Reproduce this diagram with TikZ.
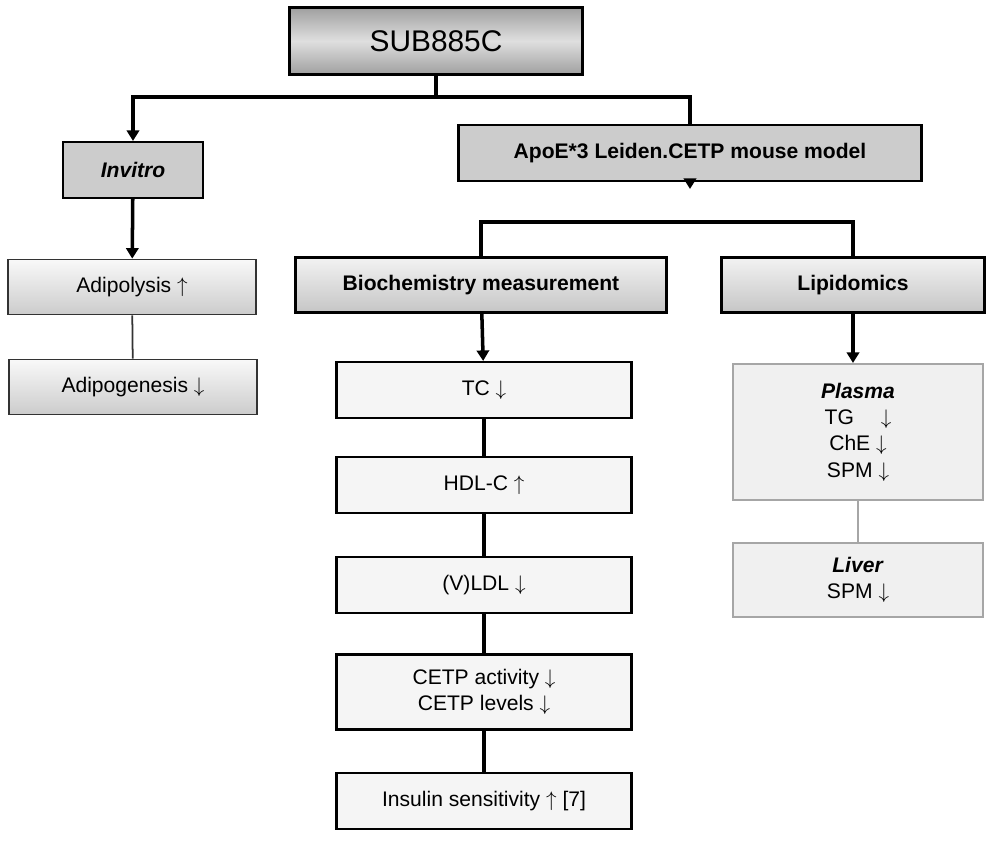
\documentclass[tikz,border=0pt]{standalone}
\usepackage{fontspec}
\setmainfont{Liberation Sans}
\usetikzlibrary{arrows.meta}
\tikzstyle{topbox} = [rectangle, minimum width=5.86cm, minimum height=1.34cm, text centered, draw=black, line width=1.2pt, top color=gray!75, bottom color=gray!75, middle color=gray!25, font=\fontsize{17}{19}\selectfont]
\tikzstyle{branch} = [rectangle, minimum height=1.12cm, text centered, draw=black, line width=1.2pt, fill=gray!40, font=\fontsize{12}{14}\selectfont\bfseries]
\tikzstyle{headbox} = [rectangle, minimum height=1.1cm, text centered, draw=black, line width=1.2pt, top color=gray!10, bottom color=gray!45, font=\fontsize{12}{14}\selectfont\bfseries]
\tikzstyle{vitro} = [rectangle, minimum width=4.96cm, minimum height=1.1cm, text centered, draw=black!80, line width=1pt, top color=gray!5, bottom color=gray!40, font=\fontsize{12}{14}\selectfont]
\tikzstyle{result} = [rectangle, minimum width=5.9cm, minimum height=1.12cm, text centered, align=center, draw=black, line width=1.2pt, fill=gray!8, font=\fontsize{12}{15}\selectfont]
\tikzstyle{lipid} = [rectangle, minimum width=5cm, text centered, align=center, draw=gray!70, line width=1.2pt, fill=gray!12, font=\fontsize{12}{15}\selectfont]
\tikzstyle{arrow} = [line width=2pt, -{Triangle[length=6pt,width=7pt]}]
\tikzstyle{link} = [line width=2pt]
\begin{document}
\begin{tikzpicture}[x=0.02cm, y=-0.02cm]
\useasboundingbox (0,0) rectangle (997,842);

\node (sub) [topbox] at (436,41) {SUB885C};
\node (vitro) [branch, minimum width=2.8cm, font=\fontsize{12}{14}\selectfont\bfseries\itshape] at (133,170) {Invitro};
\node (apoe) [branch, minimum width=9.26cm] at (690,153) {ApoE*3 Leiden.CETP mouse model};

\node (lysis) [vitro] at (132,287) {Adipolysis $\uparrow$};
\node (genesis) [vitro] at (133,387) {Adipogenesis $\downarrow$};

\node (bio) [headbox, minimum width=7.42cm] at (481,285) {Biochemistry measurement};
\node (lipido) [headbox, minimum width=5.26cm] at (853,285) {Lipidomics};

\node (tc) [result] at (484,390) {TC $\downarrow$};
\node (hdl) [result] at (484,485) {HDL-C $\uparrow$};
\node (ldl) [result] at (484,585) {(V)LDL $\downarrow$};
\node (cetp) [result, minimum height=1.5cm] at (484,692) {CETP activity $\downarrow$\\CETP levels $\downarrow$};
\node (insulin) [result] at (484,801) {Insulin sensitivity $\uparrow$ [7]};

\node (plasma) [lipid, minimum height=2.72cm] at (858,432) {\textbf{\textit{Plasma}}\\TG \quad$\downarrow$\\ChE $\downarrow$\\SPM $\downarrow$};
\node (liver) [lipid, minimum height=1.48cm] at (858,580) {\textbf{\textit{Liver}}\\SPM $\downarrow$};

\coordinate (split) at (436,97);
\coordinate (fork) at (690,222);

\draw [link] (sub) -- (split);
\draw [arrow] (split) -| (vitro);
\draw [link] (split) -| (apoe);
\draw [arrow] (apoe) -- ++(0,36);
\draw [link] (fork) -| (bio);
\draw [link] (fork) -| (lipido);
\draw [arrow] (vitro) -- (lysis);
\draw [line width=1pt, black!80] (lysis) -- (genesis);
\draw [arrow] (bio) -- (tc);
\draw [arrow] (lipido) -- (plasma.north -| lipido);
\draw [link] (tc) -- (hdl);
\draw [link] (hdl) -- (ldl);
\draw [link] (ldl) -- (cetp);
\draw [link] (cetp) -- (insulin);
\draw [line width=1.5pt, gray!70] (plasma) -- (liver);
\end{tikzpicture}
\end{document}
